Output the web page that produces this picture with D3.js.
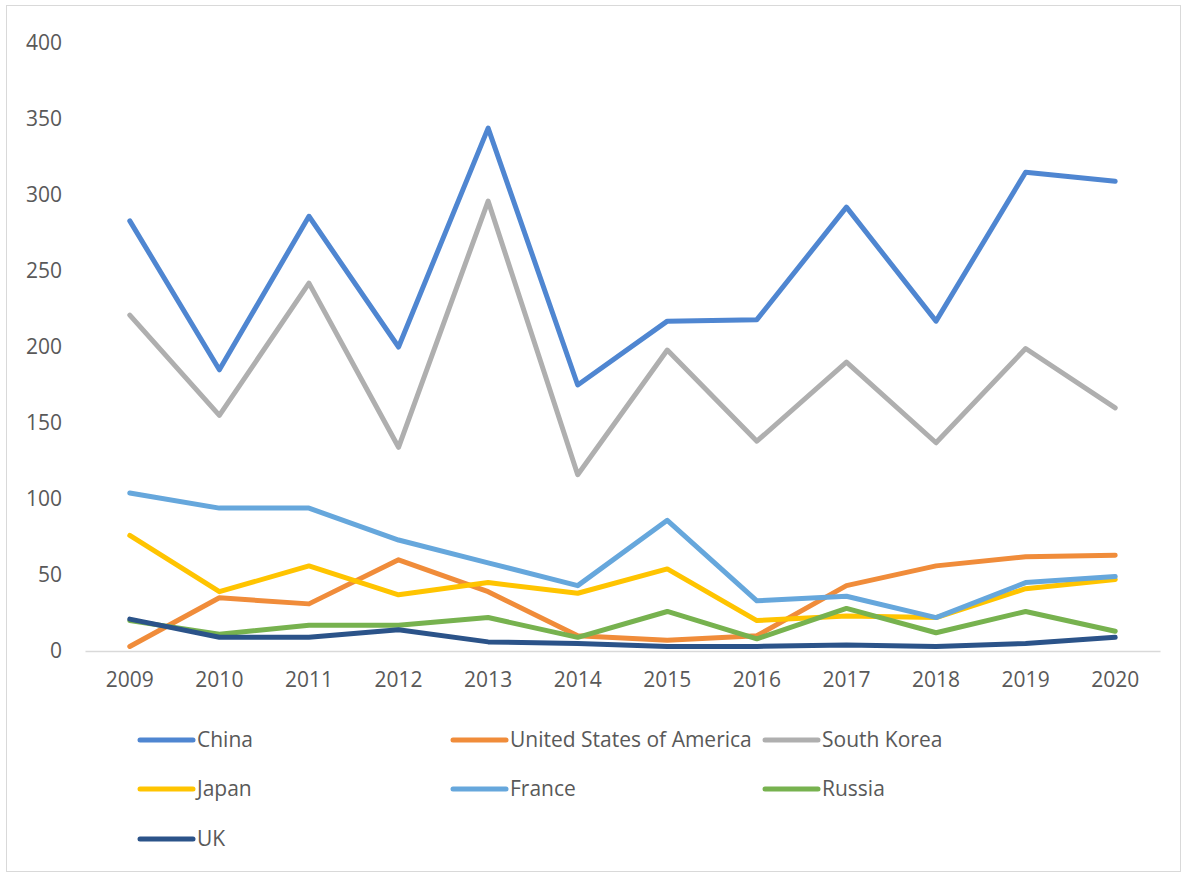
<!DOCTYPE html>
<html><head><meta charset="utf-8">
<script src="https://cdn.jsdelivr.net/npm/d3@7"></script>
<style>html,body{margin:0;padding:0;background:#fff;}svg{display:block;}</style>
</head><body>
<svg id="chart" width="1189" height="875"></svg>
<script>
const years = ["2009","2010","2011","2012","2013","2014","2015","2016","2017","2018","2019","2020"];
const yTicks = [0,50,100,150,200,250,300,350,400];
const china  = [283,185,286,200,344,175,217,218,292,217,315,309];
const usa    = [3,35,31,60,39,10,7,10,43,56,62,63];
const korea  = [221,155,242,134,296,116,198,138,190,137,199,160];
const japan  = [76,39,56,37,45,38,54,20,23,22,41,47];
const france = [104,94,94,73,58,43,86,33,36,22,45,49];
const russia = [20,11,17,17,22,9,26,8,28,12,26,13];
const uk     = [21,9,9,14,6,5,3,3,4,3,5,9];
const seriesNames = ["China","United States of America","South Korea","Japan","France","Russia","UK"];
const seriesColors = ["#4f86d1","#f08c3a","#afafaf","#ffc400","#66a7dc","#77b24f","#2b5389"];
const seriesData = [china,usa,korea,japan,france,russia,uk];

const svg = d3.select("#chart");
svg.append("rect").attr("x",6.5).attr("y",5.5).attr("width",1174).attr("height",866)
  .attr("fill","#fff").attr("stroke","#d9d9d9").attr("stroke-width",1);

const x = d3.scaleBand().domain(years).range([85,1160]);
const y = d3.scaleLinear().domain([0,400]).range([651,43]);
const font = "'Open Sans', sans-serif";

// y axis labels
const yAxis = svg.append("g").attr("transform","translate(62,0)")
  .call(d3.axisLeft(y).tickValues(yTicks).tickSize(0).tickPadding(0));
yAxis.select(".domain").remove();
yAxis.selectAll("text").attr("fill","#595959").style("font-family",font).style("font-size","21px");

// x axis
const xAxis = svg.append("g").attr("transform","translate(0,651)")
  .call(d3.axisBottom(x).tickSize(0).tickPadding(21));
xAxis.select(".domain").attr("stroke","#d9d9d9").attr("stroke-width",1.5);
xAxis.selectAll("text").attr("fill","#595959").style("font-family",font).style("font-size","21px");

const line = d3.line().x((d,i)=>x(years[i])+x.bandwidth()/2).y(d=>y(d));
seriesData.forEach((s,k)=>{
  svg.append("path").datum(s).attr("d",line).attr("fill","none")
    .attr("stroke",seriesColors[k]).attr("stroke-width",5)
    .attr("stroke-linejoin","round").attr("stroke-linecap","round");
});

// legend
const colX = [140,453,765];
const rowY = [740,789,839];
seriesNames.forEach((n,k)=>{
  const cx = colX[k%3], cy = rowY[Math.floor(k/3)];
  const g = svg.append("g");
  g.append("line").attr("x1",cx).attr("x2",cx+53).attr("y1",cy).attr("y2",cy)
    .attr("stroke",seriesColors[k]).attr("stroke-width",5).attr("stroke-linecap","round");
  g.append("text").attr("x",cx+57).attr("y",cy).attr("dy","0.35em").text(n)
    .attr("fill","#595959").style("font-family",font).style("font-size","21px");
});
</script>
</body></html>
